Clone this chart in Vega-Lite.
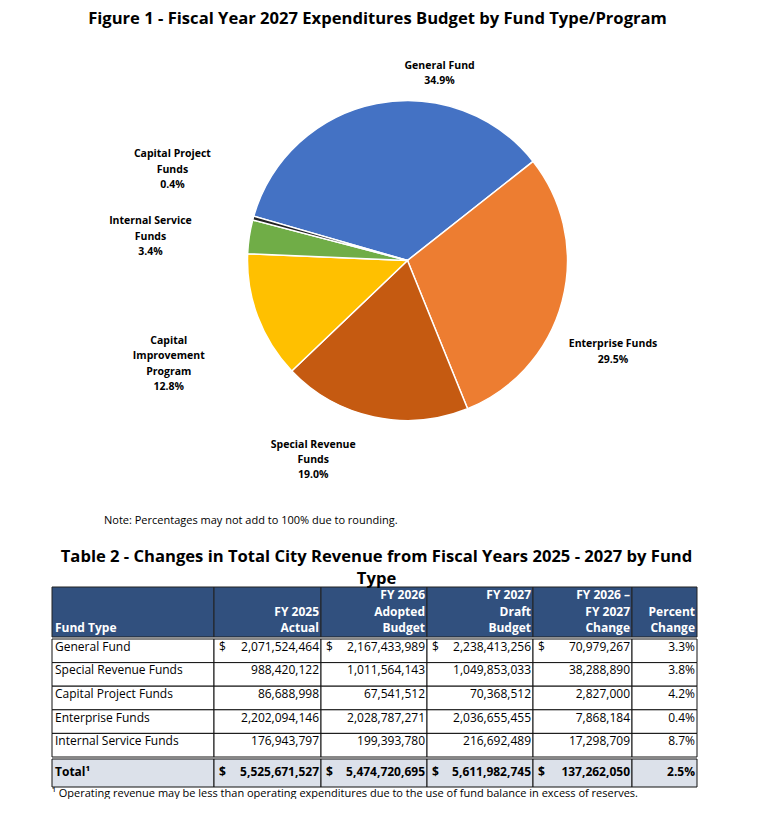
{
  "$schema": "https://vega.github.io/schema/vega-lite/v6.json",
  "background": "white",
  "padding": {"top": 11, "left": 0, "right": 0, "bottom": 0},
  "title": {"text": "Figure 1 - Fiscal Year 2027 Expenditures Budget by Fund Type/Program", "anchor": "middle", "dx": -8, "fontSize": 16.6, "offset": 8},
  "spacing": 23,
  "config": {
    "view": {"stroke": null},
    "font": "Open Sans",
    "title": {"font": "Open Sans", "fontWeight": "bold", "color": "black"},
    "text": {"font": "Open Sans", "color": "black"}
  },
  "datasets": {
    "pie": [
      {"fund": "General Fund", "pct": 34.9, "ord": 1, "lab": "General Fund\n34.9%"},
      {"fund": "Enterprise Funds", "pct": 29.5, "ord": 2, "lab": "Enterprise Funds\n29.5%"},
      {"fund": "Special Revenue Funds", "pct": 19.0, "ord": 3, "lab": "Special Revenue\nFunds\n19.0%"},
      {"fund": "Capital Improvement Program", "pct": 12.8, "ord": 4, "lab": "Capital\nImprovement\nProgram\n12.8%"},
      {"fund": "Internal Service Funds", "pct": 3.4, "ord": 5, "lab": "Internal Service\nFunds\n3.4%"},
      {"fund": "Capital Project Funds", "pct": 0.4, "ord": 6, "lab": "Capital Project\nFunds\n0.4%"}
    ],
    "header": [
      {"c0": "Fund Type", "c1": "FY 2025\nActual", "c2": "FY 2026\nAdopted\nBudget", "c3": "FY 2027\nDraft\nBudget", "c4": "FY 2026 –\nFY 2027\nChange", "c5": "Percent\nChange"}
    ],
    "body": [
      {"fund": "General Fund", "d": "$", "fy25": 2071524464, "fy26": 2167433989, "fy27": 2238413256, "chg": 70979267, "pc": 0.033},
      {"fund": "Special Revenue Funds", "d": "", "fy25": 988420122, "fy26": 1011564143, "fy27": 1049853033, "chg": 38288890, "pc": 0.038},
      {"fund": "Capital Project Funds", "d": "", "fy25": 86688998, "fy26": 67541512, "fy27": 70368512, "chg": 2827000, "pc": 0.042},
      {"fund": "Enterprise Funds", "d": "", "fy25": 2202094146, "fy26": 2028787271, "fy27": 2036655455, "chg": 7868184, "pc": 0.004},
      {"fund": "Internal Service Funds", "d": "", "fy25": 176943797, "fy26": 199393780, "fy27": 216692489, "chg": 17298709, "pc": 0.087}
    ],
    "total": [
      {"fund": "Total¹", "d": "$", "fy25": 5525671527, "fy26": 5474720695, "fy27": 5611982745, "chg": 137262050, "pc": 0.025}
    ]
  },
  "vconcat": [
    {
      "width": 771,
      "height": 449,
      "title": {"text": "Note: Percentages may not add to 100% due to rounding.", "orient": "bottom", "anchor": "start", "dx": 104, "fontSize": 11, "fontWeight": "normal", "offset": 30},
      "data": {"name": "pie"},
      "encoding": {
        "theta": {"field": "pct", "type": "quantitative", "stack": true, "scale": {"domain": [0, 100], "range": [-1.2898, 4.9934]}},
        "order": {"field": "ord", "type": "quantitative"}
      },
      "layer": [
        {
          "mark": {"type": "arc", "outerRadius": 160, "stroke": "white", "strokeWidth": 1.5, "x": {"expr": "width/2+22"}},
          "encoding": {"color": {"field": "fund", "type": "nominal", "legend": null, "scale": {"domain": ["General Fund", "Enterprise Funds", "Special Revenue Funds", "Capital Improvement Program", "Internal Service Funds", "Capital Project Funds"], "range": ["#4472C4", "#ED7D31", "#C55A11", "#FFC000", "#70AD47", "#222222"]}}}
        },
        {
          "mark": {"type": "text", "clip": true, "radius": 197, "thetaOffset": 0.357, "x": {"expr": "width/2+22"}, "fontSize": 10.5, "fontWeight": "bold", "lineBreak": "\n", "lineHeight": 15.3, "align": "center", "baseline": "middle"},
          "encoding": {"text": {"condition": {"test": "datum.fund === 'General Fund'", "field": "lab", "type": "nominal"}, "value": ""}}
        },
        {
          "mark": {"type": "text", "clip": true, "radius": 222, "thetaOffset": 0.129, "x": {"expr": "width/2+22"}, "fontSize": 10.5, "fontWeight": "bold", "lineBreak": "\n", "lineHeight": 15.3, "align": "center", "baseline": "middle"},
          "encoding": {"text": {"condition": {"test": "datum.fund === 'Enterprise Funds'", "field": "lab", "type": "nominal"}, "value": ""}}
        },
        {
          "mark": {"type": "text", "clip": true, "radius": 207, "thetaOffset": 0.261, "x": {"expr": "width/2+22"}, "fontSize": 10.5, "fontWeight": "bold", "lineBreak": "\n", "lineHeight": 15.3, "align": "center", "baseline": "middle"},
          "encoding": {"text": {"condition": {"test": "datum.fund === 'Special Revenue Funds'", "field": "lab", "type": "nominal"}, "value": ""}}
        },
        {
          "mark": {"type": "text", "clip": true, "radius": 252, "thetaOffset": 0.034, "x": {"expr": "width/2+22"}, "fontSize": 10.5, "fontWeight": "bold", "lineBreak": "\n", "lineHeight": 15.3, "align": "center", "baseline": "middle"},
          "encoding": {"text": {"condition": {"test": "datum.fund === 'Capital Improvement Program'", "field": "lab", "type": "nominal"}, "value": ""}}
        },
        {
          "mark": {"type": "text", "clip": true, "radius": 260, "thetaOffset": 0.002, "x": {"expr": "width/2+22"}, "fontSize": 10.5, "fontWeight": "bold", "lineBreak": "\n", "lineHeight": 15.3, "align": "center", "baseline": "middle"},
          "encoding": {"text": {"condition": {"test": "datum.fund === 'Internal Service Funds'", "field": "lab", "type": "nominal"}, "value": ""}}
        },
        {
          "mark": {"type": "text", "clip": true, "radius": 258, "thetaOffset": 0.156, "x": {"expr": "width/2+22"}, "fontSize": 10.5, "fontWeight": "bold", "lineBreak": "\n", "lineHeight": 15.3, "align": "center", "baseline": "middle"},
          "encoding": {"text": {"condition": {"test": "datum.fund === 'Capital Project Funds'", "field": "lab", "type": "nominal"}, "value": ""}}
        }
      ]
    },
    {
      "spacing": 0,
      "title": {"text": "¹ Operating revenue may be less than operating expenditures due to the use of fund balance in excess of reserves.", "orient": "bottom", "anchor": "start", "dx": 52, "fontSize": 11, "fontWeight": "normal", "offset": 0},
      "vconcat": [
        {
          "width": 771,
          "height": 50,
          "title": {"text": "Table 2 - Changes in Total City Revenue from Fiscal Years 2025 - 2027 by Fund", "subtitle": "Type", "anchor": "middle", "dx": -9, "fontSize": 16.6, "subtitleFontSize": 16.6, "subtitleFont": "Open Sans", "subtitleFontWeight": "bold", "subtitleColor": "black", "subtitlePadding": 5, "offset": -1},
          "data": {"name": "header"},
          "layer": [
            {"mark": {"type": "rect", "fill": "#31507E", "stroke": "#222222", "strokeWidth": 1}, "encoding": {"x": {"datum": 0, "type": "quantitative", "scale": {"domain": [0, 1, 2, 3, 4, 5, 6], "range": [52, 214, 321, 427, 533, 632, 697]}, "axis": null}, "x2": {"datum": 1}}},
            {"mark": {"type": "rect", "fill": "#31507E", "stroke": "#222222", "strokeWidth": 1}, "encoding": {"x": {"datum": 1, "type": "quantitative", "scale": {"domain": [0, 1, 2, 3, 4, 5, 6], "range": [52, 214, 321, 427, 533, 632, 697]}, "axis": null}, "x2": {"datum": 2}}},
            {"mark": {"type": "rect", "fill": "#31507E", "stroke": "#222222", "strokeWidth": 1}, "encoding": {"x": {"datum": 2, "type": "quantitative", "scale": {"domain": [0, 1, 2, 3, 4, 5, 6], "range": [52, 214, 321, 427, 533, 632, 697]}, "axis": null}, "x2": {"datum": 3}}},
            {"mark": {"type": "rect", "fill": "#31507E", "stroke": "#222222", "strokeWidth": 1}, "encoding": {"x": {"datum": 3, "type": "quantitative", "scale": {"domain": [0, 1, 2, 3, 4, 5, 6], "range": [52, 214, 321, 427, 533, 632, 697]}, "axis": null}, "x2": {"datum": 4}}},
            {"mark": {"type": "rect", "fill": "#31507E", "stroke": "#222222", "strokeWidth": 1}, "encoding": {"x": {"datum": 4, "type": "quantitative", "scale": {"domain": [0, 1, 2, 3, 4, 5, 6], "range": [52, 214, 321, 427, 533, 632, 697]}, "axis": null}, "x2": {"datum": 5}}},
            {"mark": {"type": "rect", "fill": "#31507E", "stroke": "#222222", "strokeWidth": 1}, "encoding": {"x": {"datum": 5, "type": "quantitative", "scale": {"domain": [0, 1, 2, 3, 4, 5, 6], "range": [52, 214, 321, 427, 533, 632, 697]}, "axis": null}, "x2": {"datum": 6}}},
            {"mark": {"type": "text", "align": "left", "baseline": "middle", "dx": 3, "dy": -9, "fontSize": 12, "fontWeight": "bold", "color": "white", "lineBreak": "\n", "lineHeight": 16.5}, "encoding": {"x": {"datum": 0, "type": "quantitative", "scale": {"domain": [0, 1, 2, 3, 4, 5, 6], "range": [52, 214, 321, 427, 533, 632, 697]}, "axis": null}, "y": {"datum": 0, "type": "quantitative", "scale": {"domain": [0, 1]}, "axis": null}, "text": {"field": "c0", "type": "nominal"}}},
            {"mark": {"type": "text", "align": "right", "baseline": "middle", "dx": -2, "dy": -25.5, "fontSize": 12, "fontWeight": "bold", "color": "white", "lineBreak": "\n", "lineHeight": 16.5}, "encoding": {"x": {"datum": 2, "type": "quantitative", "scale": {"domain": [0, 1, 2, 3, 4, 5, 6], "range": [52, 214, 321, 427, 533, 632, 697]}, "axis": null}, "y": {"datum": 0, "type": "quantitative", "scale": {"domain": [0, 1]}, "axis": null}, "text": {"field": "c1", "type": "nominal"}}},
            {"mark": {"type": "text", "align": "right", "baseline": "middle", "dx": -2, "dy": -42, "fontSize": 12, "fontWeight": "bold", "color": "white", "lineBreak": "\n", "lineHeight": 16.5}, "encoding": {"x": {"datum": 3, "type": "quantitative", "scale": {"domain": [0, 1, 2, 3, 4, 5, 6], "range": [52, 214, 321, 427, 533, 632, 697]}, "axis": null}, "y": {"datum": 0, "type": "quantitative", "scale": {"domain": [0, 1]}, "axis": null}, "text": {"field": "c2", "type": "nominal"}}},
            {"mark": {"type": "text", "align": "right", "baseline": "middle", "dx": -2, "dy": -42, "fontSize": 12, "fontWeight": "bold", "color": "white", "lineBreak": "\n", "lineHeight": 16.5}, "encoding": {"x": {"datum": 4, "type": "quantitative", "scale": {"domain": [0, 1, 2, 3, 4, 5, 6], "range": [52, 214, 321, 427, 533, 632, 697]}, "axis": null}, "y": {"datum": 0, "type": "quantitative", "scale": {"domain": [0, 1]}, "axis": null}, "text": {"field": "c3", "type": "nominal"}}},
            {"mark": {"type": "text", "align": "right", "baseline": "middle", "dx": -2, "dy": -42, "fontSize": 12, "fontWeight": "bold", "color": "white", "lineBreak": "\n", "lineHeight": 16.5}, "encoding": {"x": {"datum": 5, "type": "quantitative", "scale": {"domain": [0, 1, 2, 3, 4, 5, 6], "range": [52, 214, 321, 427, 533, 632, 697]}, "axis": null}, "y": {"datum": 0, "type": "quantitative", "scale": {"domain": [0, 1]}, "axis": null}, "text": {"field": "c4", "type": "nominal"}}},
            {"mark": {"type": "text", "align": "right", "baseline": "middle", "dx": -2, "dy": -25.5, "fontSize": 12, "fontWeight": "bold", "color": "white", "lineBreak": "\n", "lineHeight": 16.5}, "encoding": {"x": {"datum": 6, "type": "quantitative", "scale": {"domain": [0, 1, 2, 3, 4, 5, 6], "range": [52, 214, 321, 427, 533, 632, 697]}, "axis": null}, "y": {"datum": 0, "type": "quantitative", "scale": {"domain": [0, 1]}, "axis": null}, "text": {"field": "c5", "type": "nominal"}}}
          ]
        },
        {
          "width": 771,
          "height": 118,
          "data": {"name": "body"},
          "encoding": {"y": {"field": "fund", "type": "nominal", "sort": null, "axis": null, "scale": {"paddingInner": 0, "paddingOuter": 0}}},
          "layer": [
            {"mark": {"type": "rect", "fill": "white", "stroke": "#111111", "strokeWidth": 1}, "encoding": {"x": {"datum": 0, "type": "quantitative", "scale": {"domain": [0, 1, 2, 3, 4, 5, 6], "range": [52, 214, 321, 427, 533, 632, 697]}, "axis": null}, "x2": {"datum": 1}}},
            {"mark": {"type": "rect", "fill": "white", "stroke": "#111111", "strokeWidth": 1}, "encoding": {"x": {"datum": 1, "type": "quantitative", "scale": {"domain": [0, 1, 2, 3, 4, 5, 6], "range": [52, 214, 321, 427, 533, 632, 697]}, "axis": null}, "x2": {"datum": 2}}},
            {"mark": {"type": "rect", "fill": "white", "stroke": "#111111", "strokeWidth": 1}, "encoding": {"x": {"datum": 2, "type": "quantitative", "scale": {"domain": [0, 1, 2, 3, 4, 5, 6], "range": [52, 214, 321, 427, 533, 632, 697]}, "axis": null}, "x2": {"datum": 3}}},
            {"mark": {"type": "rect", "fill": "white", "stroke": "#111111", "strokeWidth": 1}, "encoding": {"x": {"datum": 3, "type": "quantitative", "scale": {"domain": [0, 1, 2, 3, 4, 5, 6], "range": [52, 214, 321, 427, 533, 632, 697]}, "axis": null}, "x2": {"datum": 4}}},
            {"mark": {"type": "rect", "fill": "white", "stroke": "#111111", "strokeWidth": 1}, "encoding": {"x": {"datum": 4, "type": "quantitative", "scale": {"domain": [0, 1, 2, 3, 4, 5, 6], "range": [52, 214, 321, 427, 533, 632, 697]}, "axis": null}, "x2": {"datum": 5}}},
            {"mark": {"type": "rect", "fill": "white", "stroke": "#111111", "strokeWidth": 1}, "encoding": {"x": {"datum": 5, "type": "quantitative", "scale": {"domain": [0, 1, 2, 3, 4, 5, 6], "range": [52, 214, 321, 427, 533, 632, 697]}, "axis": null}, "x2": {"datum": 6}}},
            {"mark": {"type": "text", "align": "left", "dx": 3, "dy": -4, "fontSize": 12}, "encoding": {"x": {"datum": 0, "type": "quantitative", "scale": {"domain": [0, 1, 2, 3, 4, 5, 6], "range": [52, 214, 321, 427, 533, 632, 697]}, "axis": null}, "text": {"field": "fund", "type": "nominal"}}},
            {"mark": {"type": "text", "align": "left", "dx": 5, "dy": -4, "fontSize": 12}, "encoding": {"x": {"datum": 1, "type": "quantitative", "scale": {"domain": [0, 1, 2, 3, 4, 5, 6], "range": [52, 214, 321, 427, 533, 632, 697]}, "axis": null}, "text": {"field": "d", "type": "nominal"}}},
            {"mark": {"type": "text", "align": "left", "dx": 5, "dy": -4, "fontSize": 12}, "encoding": {"x": {"datum": 2, "type": "quantitative", "scale": {"domain": [0, 1, 2, 3, 4, 5, 6], "range": [52, 214, 321, 427, 533, 632, 697]}, "axis": null}, "text": {"field": "d", "type": "nominal"}}},
            {"mark": {"type": "text", "align": "left", "dx": 5, "dy": -4, "fontSize": 12}, "encoding": {"x": {"datum": 3, "type": "quantitative", "scale": {"domain": [0, 1, 2, 3, 4, 5, 6], "range": [52, 214, 321, 427, 533, 632, 697]}, "axis": null}, "text": {"field": "d", "type": "nominal"}}},
            {"mark": {"type": "text", "align": "left", "dx": 5, "dy": -4, "fontSize": 12}, "encoding": {"x": {"datum": 4, "type": "quantitative", "scale": {"domain": [0, 1, 2, 3, 4, 5, 6], "range": [52, 214, 321, 427, 533, 632, 697]}, "axis": null}, "text": {"field": "d", "type": "nominal"}}},
            {"mark": {"type": "text", "align": "right", "dx": -2, "dy": -4, "fontSize": 12}, "encoding": {"x": {"datum": 2, "type": "quantitative", "scale": {"domain": [0, 1, 2, 3, 4, 5, 6], "range": [52, 214, 321, 427, 533, 632, 697]}, "axis": null}, "text": {"field": "fy25", "type": "quantitative", "format": ",d"}}},
            {"mark": {"type": "text", "align": "right", "dx": -2, "dy": -4, "fontSize": 12}, "encoding": {"x": {"datum": 3, "type": "quantitative", "scale": {"domain": [0, 1, 2, 3, 4, 5, 6], "range": [52, 214, 321, 427, 533, 632, 697]}, "axis": null}, "text": {"field": "fy26", "type": "quantitative", "format": ",d"}}},
            {"mark": {"type": "text", "align": "right", "dx": -2, "dy": -4, "fontSize": 12}, "encoding": {"x": {"datum": 4, "type": "quantitative", "scale": {"domain": [0, 1, 2, 3, 4, 5, 6], "range": [52, 214, 321, 427, 533, 632, 697]}, "axis": null}, "text": {"field": "fy27", "type": "quantitative", "format": ",d"}}},
            {"mark": {"type": "text", "align": "right", "dx": -2, "dy": -4, "fontSize": 12}, "encoding": {"x": {"datum": 5, "type": "quantitative", "scale": {"domain": [0, 1, 2, 3, 4, 5, 6], "range": [52, 214, 321, 427, 533, 632, 697]}, "axis": null}, "text": {"field": "chg", "type": "quantitative", "format": ",d"}}},
            {"mark": {"type": "text", "align": "right", "dx": -2, "dy": -4, "fontSize": 12}, "encoding": {"x": {"datum": 6, "type": "quantitative", "scale": {"domain": [0, 1, 2, 3, 4, 5, 6], "range": [52, 214, 321, 427, 533, 632, 697]}, "axis": null}, "text": {"field": "pc", "type": "quantitative", "format": ".1%"}}}
          ]
        },
        {
          "width": 771,
          "height": 28,
          "data": {"name": "total"},
          "encoding": {"y": {"field": "fund", "type": "nominal", "sort": null, "axis": null, "scale": {"paddingInner": 0, "paddingOuter": 0}}},
          "layer": [
            {"mark": {"type": "rect", "fill": "#DCE1EA", "stroke": "#111111", "strokeWidth": 1}, "encoding": {"x": {"datum": 0, "type": "quantitative", "scale": {"domain": [0, 1, 2, 3, 4, 5, 6], "range": [52, 214, 321, 427, 533, 632, 697]}, "axis": null}, "x2": {"datum": 1}}},
            {"mark": {"type": "rect", "fill": "#DCE1EA", "stroke": "#111111", "strokeWidth": 1}, "encoding": {"x": {"datum": 1, "type": "quantitative", "scale": {"domain": [0, 1, 2, 3, 4, 5, 6], "range": [52, 214, 321, 427, 533, 632, 697]}, "axis": null}, "x2": {"datum": 2}}},
            {"mark": {"type": "rect", "fill": "#DCE1EA", "stroke": "#111111", "strokeWidth": 1}, "encoding": {"x": {"datum": 2, "type": "quantitative", "scale": {"domain": [0, 1, 2, 3, 4, 5, 6], "range": [52, 214, 321, 427, 533, 632, 697]}, "axis": null}, "x2": {"datum": 3}}},
            {"mark": {"type": "rect", "fill": "#DCE1EA", "stroke": "#111111", "strokeWidth": 1}, "encoding": {"x": {"datum": 3, "type": "quantitative", "scale": {"domain": [0, 1, 2, 3, 4, 5, 6], "range": [52, 214, 321, 427, 533, 632, 697]}, "axis": null}, "x2": {"datum": 4}}},
            {"mark": {"type": "rect", "fill": "#DCE1EA", "stroke": "#111111", "strokeWidth": 1}, "encoding": {"x": {"datum": 4, "type": "quantitative", "scale": {"domain": [0, 1, 2, 3, 4, 5, 6], "range": [52, 214, 321, 427, 533, 632, 697]}, "axis": null}, "x2": {"datum": 5}}},
            {"mark": {"type": "rect", "fill": "#DCE1EA", "stroke": "#111111", "strokeWidth": 1}, "encoding": {"x": {"datum": 5, "type": "quantitative", "scale": {"domain": [0, 1, 2, 3, 4, 5, 6], "range": [52, 214, 321, 427, 533, 632, 697]}, "axis": null}, "x2": {"datum": 6}}},
            {"mark": {"type": "text", "align": "left", "dx": 3, "dy": -1, "fontSize": 12, "fontWeight": "bold"}, "encoding": {"x": {"datum": 0, "type": "quantitative", "scale": {"domain": [0, 1, 2, 3, 4, 5, 6], "range": [52, 214, 321, 427, 533, 632, 697]}, "axis": null}, "text": {"field": "fund", "type": "nominal"}}},
            {"mark": {"type": "text", "align": "left", "dx": 5, "dy": -1, "fontSize": 12, "fontWeight": "bold"}, "encoding": {"x": {"datum": 1, "type": "quantitative", "scale": {"domain": [0, 1, 2, 3, 4, 5, 6], "range": [52, 214, 321, 427, 533, 632, 697]}, "axis": null}, "text": {"field": "d", "type": "nominal"}}},
            {"mark": {"type": "text", "align": "left", "dx": 5, "dy": -1, "fontSize": 12, "fontWeight": "bold"}, "encoding": {"x": {"datum": 2, "type": "quantitative", "scale": {"domain": [0, 1, 2, 3, 4, 5, 6], "range": [52, 214, 321, 427, 533, 632, 697]}, "axis": null}, "text": {"field": "d", "type": "nominal"}}},
            {"mark": {"type": "text", "align": "left", "dx": 5, "dy": -1, "fontSize": 12, "fontWeight": "bold"}, "encoding": {"x": {"datum": 3, "type": "quantitative", "scale": {"domain": [0, 1, 2, 3, 4, 5, 6], "range": [52, 214, 321, 427, 533, 632, 697]}, "axis": null}, "text": {"field": "d", "type": "nominal"}}},
            {"mark": {"type": "text", "align": "left", "dx": 5, "dy": -1, "fontSize": 12, "fontWeight": "bold"}, "encoding": {"x": {"datum": 4, "type": "quantitative", "scale": {"domain": [0, 1, 2, 3, 4, 5, 6], "range": [52, 214, 321, 427, 533, 632, 697]}, "axis": null}, "text": {"field": "d", "type": "nominal"}}},
            {"mark": {"type": "text", "align": "right", "dx": -2, "dy": -1, "fontSize": 12, "fontWeight": "bold"}, "encoding": {"x": {"datum": 2, "type": "quantitative", "scale": {"domain": [0, 1, 2, 3, 4, 5, 6], "range": [52, 214, 321, 427, 533, 632, 697]}, "axis": null}, "text": {"field": "fy25", "type": "quantitative", "format": ",d"}}},
            {"mark": {"type": "text", "align": "right", "dx": -2, "dy": -1, "fontSize": 12, "fontWeight": "bold"}, "encoding": {"x": {"datum": 3, "type": "quantitative", "scale": {"domain": [0, 1, 2, 3, 4, 5, 6], "range": [52, 214, 321, 427, 533, 632, 697]}, "axis": null}, "text": {"field": "fy26", "type": "quantitative", "format": ",d"}}},
            {"mark": {"type": "text", "align": "right", "dx": -2, "dy": -1, "fontSize": 12, "fontWeight": "bold"}, "encoding": {"x": {"datum": 4, "type": "quantitative", "scale": {"domain": [0, 1, 2, 3, 4, 5, 6], "range": [52, 214, 321, 427, 533, 632, 697]}, "axis": null}, "text": {"field": "fy27", "type": "quantitative", "format": ",d"}}},
            {"mark": {"type": "text", "align": "right", "dx": -2, "dy": -1, "fontSize": 12, "fontWeight": "bold"}, "encoding": {"x": {"datum": 5, "type": "quantitative", "scale": {"domain": [0, 1, 2, 3, 4, 5, 6], "range": [52, 214, 321, 427, 533, 632, 697]}, "axis": null}, "text": {"field": "chg", "type": "quantitative", "format": ",d"}}},
            {"mark": {"type": "text", "align": "right", "dx": -2, "dy": -1, "fontSize": 12, "fontWeight": "bold"}, "encoding": {"x": {"datum": 6, "type": "quantitative", "scale": {"domain": [0, 1, 2, 3, 4, 5, 6], "range": [52, 214, 321, 427, 533, 632, 697]}, "axis": null}, "text": {"field": "pc", "type": "quantitative", "format": ".1%"}}}
          ]
        }
      ]
    }
  ]
}
